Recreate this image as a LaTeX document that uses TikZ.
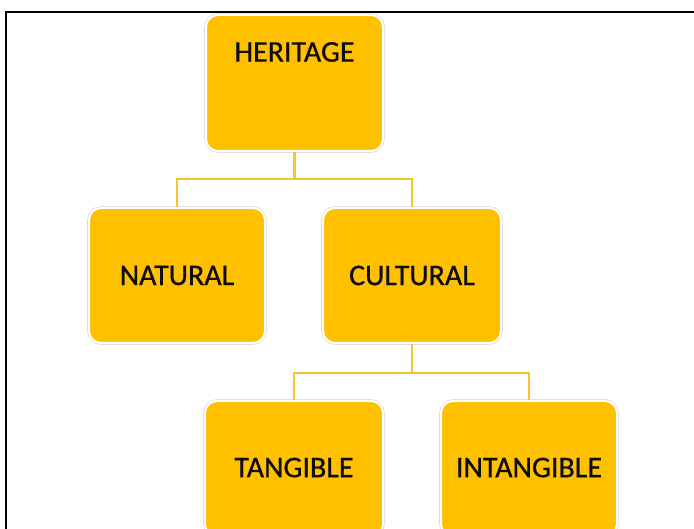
\documentclass[tikz,border=0pt]{standalone}
\usepackage{fontspec}
\setmainfont{Carlito}
\newfontfamily\boxfont[FakeBold=0.7]{Carlito}
\usetikzlibrary{calc}
\definecolor{boxfill}{HTML}{FFC000}
\definecolor{linkcol}{HTML}{F9C433}
\definecolor{edgegray}{HTML}{DDDDDD}
\begin{document}
\begin{tikzpicture}[x=1pt,y=-1pt,
  hbox/.style={fill=boxfill, draw=white, line width=2pt, rounded corners=12pt,
    minimum width=176pt, minimum height=135pt, inner sep=0pt,
    font=\boxfont\fontsize{30}{30}\selectfont, text=black!95,
    preaction={draw=edgegray, line width=3.6pt}},
  link/.style={draw=linkcol, line width=2.8pt}]
\useasboundingbox (0,0) rectangle (694,529);
\clip (0,0) rectangle (694,529);
\fill[white] (0,0) rectangle (694,529);
% frame
\draw[line width=2.2pt, black] (694,12) -- (6,12) -- (6,529);
% nodes
\node[hbox, minimum width=177pt, minimum height=136pt,
  label={[anchor=center, yshift=-38pt, font=\boxfont\fontsize{30}{30}\selectfont, text=black!95]north:HERITAGE}]
  (her) at (294.5,83) {};
\node[hbox] (nat) at (177,275.5) {NATURAL};
\node[hbox, minimum width=178pt] (cul) at (412,275.5) {CULTURAL};
\node[hbox, minimum width=178pt] (tan) at (294,468.5) {\raisebox{2pt}{TANGIBLE}};
\node[hbox] (int) at (529,468.5) {\raisebox{2pt}{INTANGIBLE}};
% connectors
\draw[link] (her.south) -- ++(0,27) coordinate (hj) -| (nat.north);
\draw[link] (hj) -| (cul.north);
\draw[link] (cul.south) -- ++(0,29) coordinate (cj) -| (tan.north);
\draw[link] (cj) -| (int.north);
\end{tikzpicture}
\end{document}
